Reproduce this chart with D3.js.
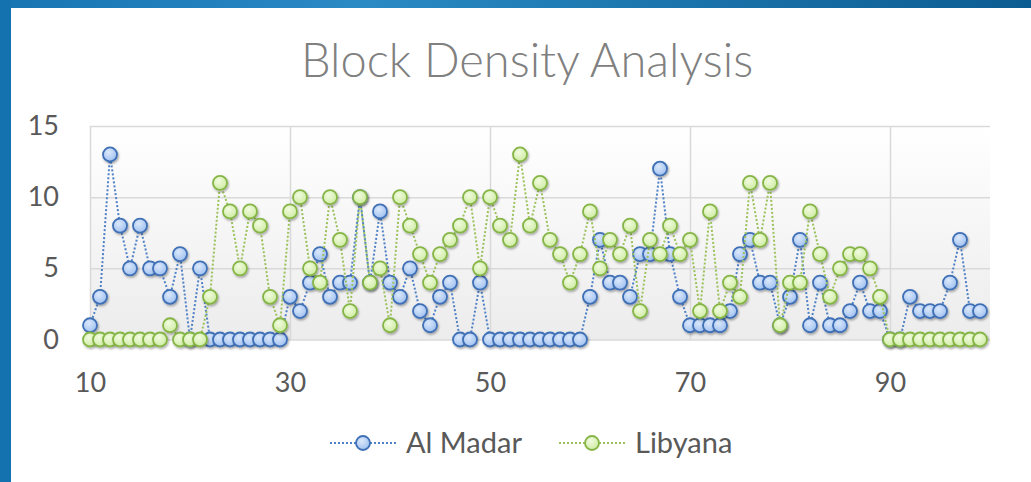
<!DOCTYPE html>
<html>
<head>
<meta charset="utf-8">
<script src="https://cdn.jsdelivr.net/npm/d3@7"></script>
<style>
    html, body { margin: 0; padding: 0; background: #fff; }
    svg { display: block; }
</style>
</head>
<body>
<div id="chart"></div>
<script>
// block numbers on the x axis
const blocks = [10, 11, 12, 13, 14, 15, 16, 17, 18, 19,
    20, 21, 22, 23, 24, 25, 26, 27, 28, 29,
    30, 31, 32, 33, 34, 35, 36, 37, 38, 39,
    40, 41, 42, 43, 44, 45, 46, 47, 48, 49,
    50, 51, 52, 53, 54, 55, 56, 57, 58, 59,
    60, 61, 62, 63, 64, 65, 66, 67, 68, 69,
    70, 71, 72, 73, 74, 75, 76, 77, 78, 79,
    80, 81, 82, 83, 84, 85, 86, 87, 88, 89,
    90, 91, 92, 93, 94, 95, 96, 97, 98, 99];

const alMadar = [1, 3, 13, 8, 5, 8, 5, 5, 3, 6,
    0, 5, 0, 0, 0, 0, 0, 0, 0, 0,
    3, 2, 4, 6, 3, 4, 4, 10, 4, 9,
    4, 3, 5, 2, 1, 3, 4, 0, 0, 4,
    0, 0, 0, 0, 0, 0, 0, 0, 0, 0,
    3, 7, 4, 4, 3, 6, 6, 12, 6, 3,
    1, 1, 1, 1, 2, 6, 7, 4, 4, 1,
    3, 7, 1, 4, 1, 1, 2, 4, 2, 2,
    0, 0, 3, 2, 2, 2, 4, 7, 2, 2];

const libyana = [0, 0, 0, 0, 0, 0, 0, 0, 1, 0,
    0, 0, 3, 11, 9, 5, 9, 8, 3, 1,
    9, 10, 5, 4, 10, 7, 2, 10, 4, 5,
    1, 10, 8, 6, 4, 6, 7, 8, 10, 5,
    10, 8, 7, 13, 8, 11, 7, 6, 4, 6,
    9, 5, 7, 6, 8, 2, 7, 6, 8, 6,
    7, 2, 9, 2, 4, 3, 11, 7, 11, 1,
    4, 4, 9, 6, 3, 5, 6, 6, 5, 3,
    0, 0, 0, 0, 0, 0, 0, 0, 0, 0];

const xTicks = [10, 30, 50, 70, 90];
const yTicks = [0, 5, 10, 15];

const seriesList = [
    { name: 'Al Madar', values: alMadar, line: '#4f81c7', stroke: '#3f6fb5', fillA: '#dbe8fb', fillB: '#9dbff0' },
    { name: 'Libyana', values: libyana, line: '#9bc25a', stroke: '#86b547', fillA: '#f1fbe0', fillB: '#cdeb9f' }
];

const width = 1031, height = 482;
const plot = { left: 90, right: 990, top: 126, bottom: 339.5 };
const font = 'Lato, "Open Sans", sans-serif';

const svg = d3.select('#chart').append('svg')
    .attr('width', width)
    .attr('height', height);

const defs = svg.append('defs');

// blue frame on top and left
const frameGrad = defs.append('linearGradient').attr('id', 'frame')
    .attr('x1', 0).attr('x2', 1).attr('y1', 0).attr('y2', 0);
frameGrad.append('stop').attr('offset', '0%').attr('stop-color', '#1875b2');
frameGrad.append('stop').attr('offset', '35%').attr('stop-color', '#2a8ac4');
frameGrad.append('stop').attr('offset', '100%').attr('stop-color', '#0b5c91');

const plotGrad = defs.append('linearGradient').attr('id', 'plotbg')
    .attr('x1', 0).attr('x2', 0).attr('y1', 0).attr('y2', 1);
plotGrad.append('stop').attr('offset', '0%').attr('stop-color', '#ffffff');
plotGrad.append('stop').attr('offset', '100%').attr('stop-color', '#ececec');

seriesList.forEach((s, i) => {
    const g = defs.append('radialGradient').attr('id', 'marker' + i)
        .attr('cx', '40%').attr('cy', '35%').attr('r', '70%');
    g.append('stop').attr('offset', '0%').attr('stop-color', s.fillA);
    g.append('stop').attr('offset', '100%').attr('stop-color', s.fillB);
});

const shadow = defs.append('filter').attr('id', 'shadow')
    .attr('x', '-50%').attr('y', '-50%').attr('width', '200%').attr('height', '200%');
shadow.append('feDropShadow')
    .attr('dx', 1).attr('dy', 1.5).attr('stdDeviation', 1.2)
    .attr('flood-color', '#000').attr('flood-opacity', 0.35);

svg.append('rect').attr('x', 0).attr('y', 0).attr('width', width).attr('height', 8).attr('fill', 'url(#frame)');
svg.append('rect').attr('x', 0).attr('y', 0).attr('width', 11).attr('height', height).attr('fill', '#1473ae');

const x = d3.scaleLinear().domain([10, 100]).range([plot.left, plot.right]);
const y = d3.scaleLinear().domain([0, 15]).range([plot.bottom, plot.top]);

svg.append('rect')
    .attr('x', plot.left).attr('y', plot.top)
    .attr('width', plot.right - plot.left).attr('height', plot.bottom - plot.top)
    .attr('fill', 'url(#plotbg)');

// gridlines + tick labels
svg.append('g')
    .attr('transform', `translate(0,${plot.bottom})`)
    .call(d3.axisBottom(x).tickValues(xTicks).tickSize(-(plot.bottom - plot.top)).tickFormat(d => d).tickPadding(33))
    .call(g => g.select('.domain').remove())
    .call(g => g.selectAll('line').attr('stroke', '#d9d9d9').attr('stroke-width', 1.5))
    .call(g => g.selectAll('text').attr('fill', '#595959').attr('font-size', 27).attr('font-family', font));

svg.append('g')
    .attr('transform', `translate(${plot.left},0)`)
    .call(d3.axisLeft(y).tickValues(yTicks).tickSize(-(plot.right - plot.left)).tickPadding(31))
    .call(g => g.select('.domain').remove())
    .call(g => g.selectAll('line').attr('stroke', '#d9d9d9').attr('stroke-width', 1.5))
    .call(g => g.selectAll('text').attr('fill', '#595959').attr('font-size', 27).attr('font-family', font));

// series
seriesList.forEach((s, i) => {
    const pts = blocks.map((b, j) => ({ b, v: s.values[j] }));
    const line = d3.line().x(d => x(d.b)).y(d => y(d.v));
    const g = svg.append('g');
    g.append('path')
        .datum(pts)
        .attr('fill', 'none')
        .attr('stroke', s.line)
        .attr('stroke-width', 2)
        .attr('stroke-dasharray', '2,2')
        .attr('d', line);
    g.selectAll('circle')
        .data(pts)
        .enter()
        .append('circle')
        .attr('cx', d => x(d.b))
        .attr('cy', d => y(d.v))
        .attr('r', 7)
        .attr('fill', `url(#marker${i})`)
        .attr('stroke', s.stroke)
        .attr('stroke-width', 1.8)
        .attr('filter', 'url(#shadow)');
});

svg.append('text')
    .attr('x', 527)
    .attr('y', 77)
    .attr('text-anchor', 'middle')
    .attr('fill', '#808080')
    .attr('font-size', 47)
    .attr('font-weight', 300)
    .attr('font-family', font)
    .text('Block Density Analysis');

// legend
const legendX = [330, 559];
seriesList.forEach((s, i) => {
    const lg = svg.append('g').attr('transform', `translate(${legendX[i]},443)`);
    lg.append('line')
        .attr('x1', 0).attr('x2', 67)
        .attr('stroke', s.line)
        .attr('stroke-width', 2)
        .attr('stroke-dasharray', '2,2');
    lg.append('circle')
        .attr('cx', 33).attr('r', 7)
        .attr('fill', `url(#marker${i})`)
        .attr('stroke', s.stroke)
        .attr('stroke-width', 1.8);
    lg.append('text')
        .attr('x', 76)
        .attr('dy', '0.35em')
        .attr('fill', '#595959')
        .attr('font-size', 29)
        .attr('font-family', font)
        .text(s.name);
});
</script>
</body>
</html>
